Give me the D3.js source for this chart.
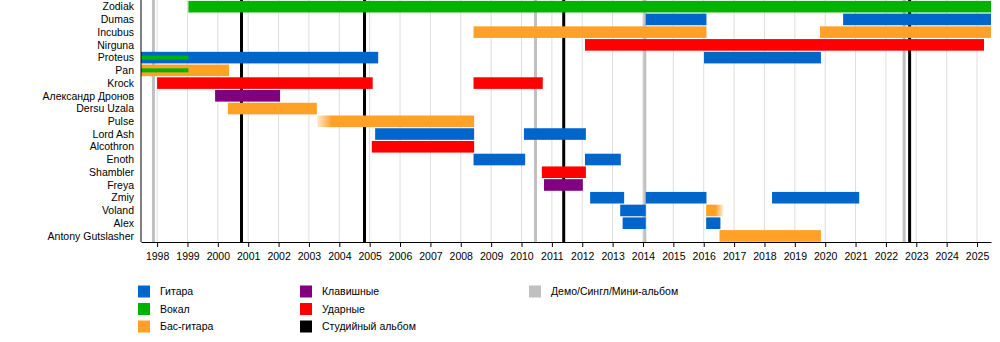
<!DOCTYPE html>
<html>
<head>
<meta charset="utf-8">
<script src="https://cdn.jsdelivr.net/npm/d3@7"></script>
<style>
  html, body { margin: 0; padding: 0; background: #fff; }
  svg { display: block; font-family: "Liberation Sans", Arial, Helvetica, sans-serif; }
</style>
</head>
<body>
<svg id="chart" width="1000" height="342"></svg>
<script>
// Band line-up, top to bottom
const members = [
  "Zodiak", "Dumas", "Incubus", "Nirguna", "Proteus", "Pan", "Krock",
  "Александр Дронов", "Dersu Uzala", "Pulse", "Lord Ash", "Alcothron",
  "Enoth", "Shambler", "Freya", "Zmiy", "Voland", "Alex", "Antony Gutslasher"
];

// Timeline period (decimal years)
const periodStart = 1997.47;
const periodEnd = 2025.46;

// Year tick labels
const years = d3.range(1998, 2026);

// Roles
const roles = ["guitar", "vocal", "bass", "keys", "drums"];
const roleColors = ["#0066cc", "#00b300", "#ffa126", "#800080", "#ff0000"];
const roleNames = ["Гитара", "Вокал", "Бас-гитара", "Клавишные", "Ударные"];

// Membership spans: [member, role, from, till]
const spans = [
  ["Zodiak", "vocal", 1999.03, periodEnd],
  ["Dumas", "guitar", 2014.09, 2016.09],
  ["Dumas", "guitar", 2020.59, periodEnd],
  ["Incubus", "bass", 2008.42, 2016.09],
  ["Incubus", "bass", 2019.83, periodEnd],
  ["Nirguna", "drums", 2012.09, 2025.23],
  ["Proteus", "guitar", periodStart, 2005.28],
  ["Proteus", "guitar", 2016.01, 2019.86],
  ["Pan", "bass", periodStart, 2000.37],
  ["Krock", "drums", 1998.0, 2005.1],
  ["Krock", "drums", 2008.42, 2010.7],
  ["Александр Дронов", "keys", 1999.91, 2002.05],
  ["Dersu Uzala", "bass", 2000.33, 2003.26],
  ["Pulse", "bass", 2003.28, 2008.44],
  ["Lord Ash", "guitar", 2005.18, 2008.44],
  ["Lord Ash", "guitar", 2010.08, 2012.12],
  ["Alcothron", "drums", 2005.07, 2008.44],
  ["Enoth", "guitar", 2008.42, 2010.12],
  ["Enoth", "guitar", 2012.09, 2013.27],
  ["Shambler", "drums", 2010.67, 2012.12],
  ["Freya", "keys", 2010.74, 2012.02],
  ["Zmiy", "guitar", 2012.26, 2013.38],
  ["Zmiy", "guitar", 2014.09, 2016.09],
  ["Zmiy", "guitar", 2018.25, 2021.12],
  ["Voland", "guitar", 2013.25, 2014.09],
  ["Voland", "bass", 2016.08, 2016.64],
  ["Alex", "guitar", 2013.33, 2014.09],
  ["Alex", "guitar", 2016.08, 2016.55],
  ["Antony Gutslasher", "bass", 2016.52, 2019.86]
];

// Secondary roles drawn as thin bars: [member, role, from, till]
const sideSpans = [
  ["Proteus", "vocal", periodStart, 1999.03],
  ["Pan", "vocal", periodStart, 1999.03]
];

// Releases
const studioAlbums = [2000.78, 2004.83, 2011.39, 2022.78];
const demos = [1997.88, 2010.46, 2014.06, 2022.6];

const legendLabels = {
  studio: "Студийный альбом",
  demo: "Демо/Сингл/Мини-альбом"
};

// ---------------------------------------------------------------
const svg = d3.select("#chart");
const plot = { left: 141, right: 991, top: 0, bottom: 242 };

const x = d3.scaleLinear().domain([periodStart, periodEnd]).range([plot.left, plot.right]);
const y = d3.scaleBand().domain(members).range([plot.top, plot.bottom]);
const color = d3.scaleOrdinal().domain(roles).range(roleColors);

const barH = 11.6;
const thinH = 4;
const fontSize = 10.5;

// Soft edges on the spans with uncertain start / end dates
const defs = svg.append("defs");
function fadeGradient(id, col, fadeIn) {
  const g = defs.append("linearGradient").attr("id", id)
    .attr("x1", "0").attr("x2", "1").attr("y1", "0").attr("y2", "0");
  const stops = fadeIn
    ? [[0, 0.25], [0.045, 0.6], [0.09, 1], [1, 1]]
    : [[0, 1], [0.55, 1], [1, 0.2]];
  stops.forEach(([o, a]) => g.append("stop")
    .attr("offset", o).attr("stop-color", col).attr("stop-opacity", a));
}
fadeGradient("fade-pulse", color("bass"), true);
fadeGradient("fade-voland", color("bass"), false);
const softEdge = { "Pulse|bass": "fade-pulse", "Voland|bass": "fade-voland" };

// Year grid
svg.append("g")
  .selectAll("line")
  .data(years)
  .join("line")
  .attr("x1", d => x(d)).attr("x2", d => x(d))
  .attr("y1", plot.top).attr("y2", plot.bottom)
  .attr("stroke", "#dddddd").attr("stroke-width", 1);

// Release lines
svg.append("g")
  .selectAll("line")
  .data(demos)
  .join("line")
  .attr("x1", d => x(d)).attr("x2", d => x(d))
  .attr("y1", plot.top).attr("y2", plot.bottom)
  .attr("stroke", "#c0c0c0").attr("stroke-width", 3);

svg.append("g")
  .selectAll("line")
  .data(studioAlbums)
  .join("line")
  .attr("x1", d => x(d)).attr("x2", d => x(d))
  .attr("y1", plot.top).attr("y2", plot.bottom)
  .attr("stroke", "#000").attr("stroke-width", 3);

// Membership bars
const off = (y.bandwidth() - barH) / 2 + 0.3;
svg.append("g")
  .selectAll("rect")
  .data(spans)
  .join("rect")
  .attr("x", d => x(d[2]))
  .attr("width", d => x(d[3]) - x(d[2]))
  .attr("y", d => y(d[0]) + off)
  .attr("height", barH)
  .attr("fill", d => {
    const id = softEdge[d[0] + "|" + d[1]];
    return id ? `url(#${id})` : color(d[1]);
  });

svg.append("g")
  .selectAll("rect")
  .data(sideSpans)
  .join("rect")
  .attr("x", d => x(d[2]))
  .attr("width", d => x(d[3]) - x(d[2]))
  .attr("y", d => y(d[0]) + y.bandwidth() / 2 - thinH / 2 + 0.3)
  .attr("height", thinH)
  .attr("fill", d => color(d[1]));

// Member names
svg.append("g")
  .selectAll("text")
  .data(members)
  .join("text")
  .attr("x", 134)
  .attr("y", d => y(d) + y.bandwidth() / 2 + 4)
  .attr("text-anchor", "end")
  .attr("font-size", fontSize)
  .attr("fill", "#000")
  .text(d => d);

// Axes
svg.append("line")
  .attr("x1", plot.left).attr("x2", plot.left)
  .attr("y1", plot.top).attr("y2", plot.bottom)
  .attr("stroke", "#000");

const xAxis = svg.append("g")
  .attr("transform", `translate(0,${plot.bottom})`)
  .call(d3.axisBottom(x).tickValues(years).tickFormat(d3.format("d"))
    .tickSize(5).tickSizeOuter(0).tickPadding(6));
xAxis.select(".domain").attr("stroke", "#000");
xAxis.selectAll(".tick line").attr("stroke", "#000");
xAxis.selectAll("text").attr("font-size", fontSize).attr("fill", "#000")
  .attr("font-family", "Liberation Sans, Arial, sans-serif");

// Legend
const legendItems = [
  { label: roleNames[0], fill: roleColors[0], col: 0, row: 0 },
  { label: roleNames[1], fill: roleColors[1], col: 0, row: 1 },
  { label: roleNames[2], fill: roleColors[2], col: 0, row: 2 },
  { label: roleNames[3], fill: roleColors[3], col: 1, row: 0 },
  { label: roleNames[4], fill: roleColors[4], col: 1, row: 1 },
  { label: legendLabels.studio, fill: "#000", col: 1, row: 2 },
  { label: legendLabels.demo, fill: "#c0c0c0", col: 2, row: 0 }
];
const colX = [138, 300, 529];
const rowY = [291.5, 309, 326.5];
const sw = 12;

const lg = svg.append("g")
  .selectAll("g")
  .data(legendItems)
  .join("g")
  .attr("transform", d => `translate(${colX[d.col]},${rowY[d.row]})`);
lg.append("rect")
  .attr("x", 0).attr("y", -sw / 2)
  .attr("width", sw).attr("height", sw)
  .attr("fill", d => d.fill);
lg.append("text")
  .attr("x", 22).attr("y", 3.5)
  .attr("font-size", fontSize)
  .attr("fill", "#000")
  .text(d => d.label);
</script>
</body>
</html>
